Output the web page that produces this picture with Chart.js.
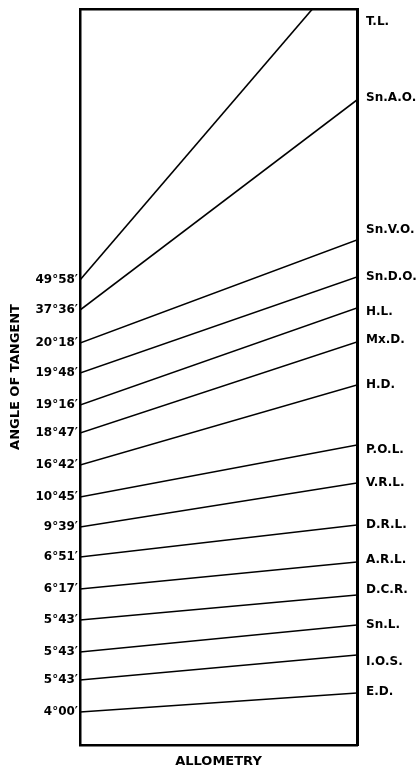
<!DOCTYPE html>
<html>
<head>
<meta charset="utf-8">
<script src="https://cdn.jsdelivr.net/npm/chart.js@4.4.1/dist/chart.umd.min.js"></script>
<style>
  body { margin: 0; background: #fff; }
  canvas { display: block; }
</style>
</head>
<body>
<canvas id="allometryChart" width="420" height="769"></canvas>
<script>
// Angle of tangent per measurement (left side, top to bottom)
const angleLabels = ['49°58′', '37°36′', '20°18′', '19°48′', '19°16′', '18°47′', '16°42′',
  '10°45′', '9°39′', '6°51′', '6°17′', '5°43′', '5°43′', '5°43′', '4°00′'];

// Measurement names (right side, top to bottom)
const measureLabels = ['T.L.', 'Sn.A.O.', 'Sn.V.O.', 'Sn.D.O.', 'H.L.', 'Mx.D.', 'H.D.',
  'P.O.L.', 'V.R.L.', 'D.R.L.', 'A.R.L.', 'D.C.R.', 'Sn.L.', 'I.O.S.', 'E.D.'];

// Line heights at the left and right edge of the box
const startValues = [465, 435, 402, 372, 340, 312, 280, 248, 218, 188, 156, 125, 93, 65, 33];
const endValues = [788, 645, 505, 468, 437, 403, 360, 300, 262, 220, 183, 150, 120, 90, 52];

// Where the right-hand names sit (T.L. runs off the top)
const measureTickValues = [723, 647, 515, 468, 433, 405, 360, 295, 262, 220, 185, 155, 120, 83, 53];

const yMax = 736;
const tickFont = { family: 'DejaVu Sans', size: 12, weight: 'bold' };

const datasets = startValues.map((v, i) => ({
    label: measureLabels[i],
    data: [{ x: 0, y: v }, { x: 1, y: endValues[i] }],
    borderColor: '#000',
    borderWidth: 1.6,
    pointRadius: 0,
    tension: 0
}));

// fixed box size, no extra room for the end labels
const fitY = w => s => { s.width = w; s.paddingTop = 0; s.paddingBottom = 0; };

const ctx = document.getElementById('allometryChart').getContext('2d');
new Chart(ctx, {
    type: 'line',
    data: { datasets },
    options: {
        responsive: false,
        animation: false,
        layout: { padding: 0 },
        plugins: { legend: { display: false }, tooltip: { enabled: false } },
        scales: {
            x: {
                type: 'linear', min: 0, max: 1,
                grid: { display: false },
                border: { display: true, color: '#000', width: 2.5 },
                ticks: { display: false },
                title: {
                    display: true, text: 'ALLOMETRY', color: '#000',
                    font: { family: 'DejaVu Sans', size: 13, weight: 'bold' },
                    padding: { top: 4, bottom: 0 }
                },
                afterFit: s => { s.height = 24; }
            },
            xTop: {
                type: 'linear', position: 'top', min: 0, max: 1,
                grid: { display: false },
                border: { display: true, color: '#000', width: 2.5 },
                ticks: { display: false },
                afterFit: s => { s.height = 9; }
            },
            y: {
                type: 'linear', min: 0, max: yMax,
                grid: { display: false, drawTicks: false },
                border: { display: true, color: '#000', width: 2.5 },
                afterBuildTicks: s => { s.ticks = startValues.map(v => ({ value: v })); },
                ticks: {
                    autoSkip: false, color: '#000', font: tickFont, padding: 2,
                    callback: (val, i) => angleLabels[i]
                },
                title: {
                    display: true, text: 'ANGLE OF TANGENT', color: '#000',
                    font: { family: 'DejaVu Sans', size: 13, weight: 'bold' },
                    padding: { top: 8, bottom: 0 }
                },
                afterFit: fitY(80)
            },
            yRight: {
                type: 'linear', position: 'right', min: 0, max: yMax,
                grid: { display: false, drawTicks: false },
                border: { display: true, color: '#000', width: 3 },
                afterBuildTicks: s => { s.ticks = measureTickValues.map(v => ({ value: v })); },
                ticks: {
                    autoSkip: false, color: '#000', font: tickFont, padding: 9,
                    callback: (val, i) => measureLabels[i]
                },
                afterFit: fitY(63)
            }
        }
    }
});
</script>
</body>
</html>
